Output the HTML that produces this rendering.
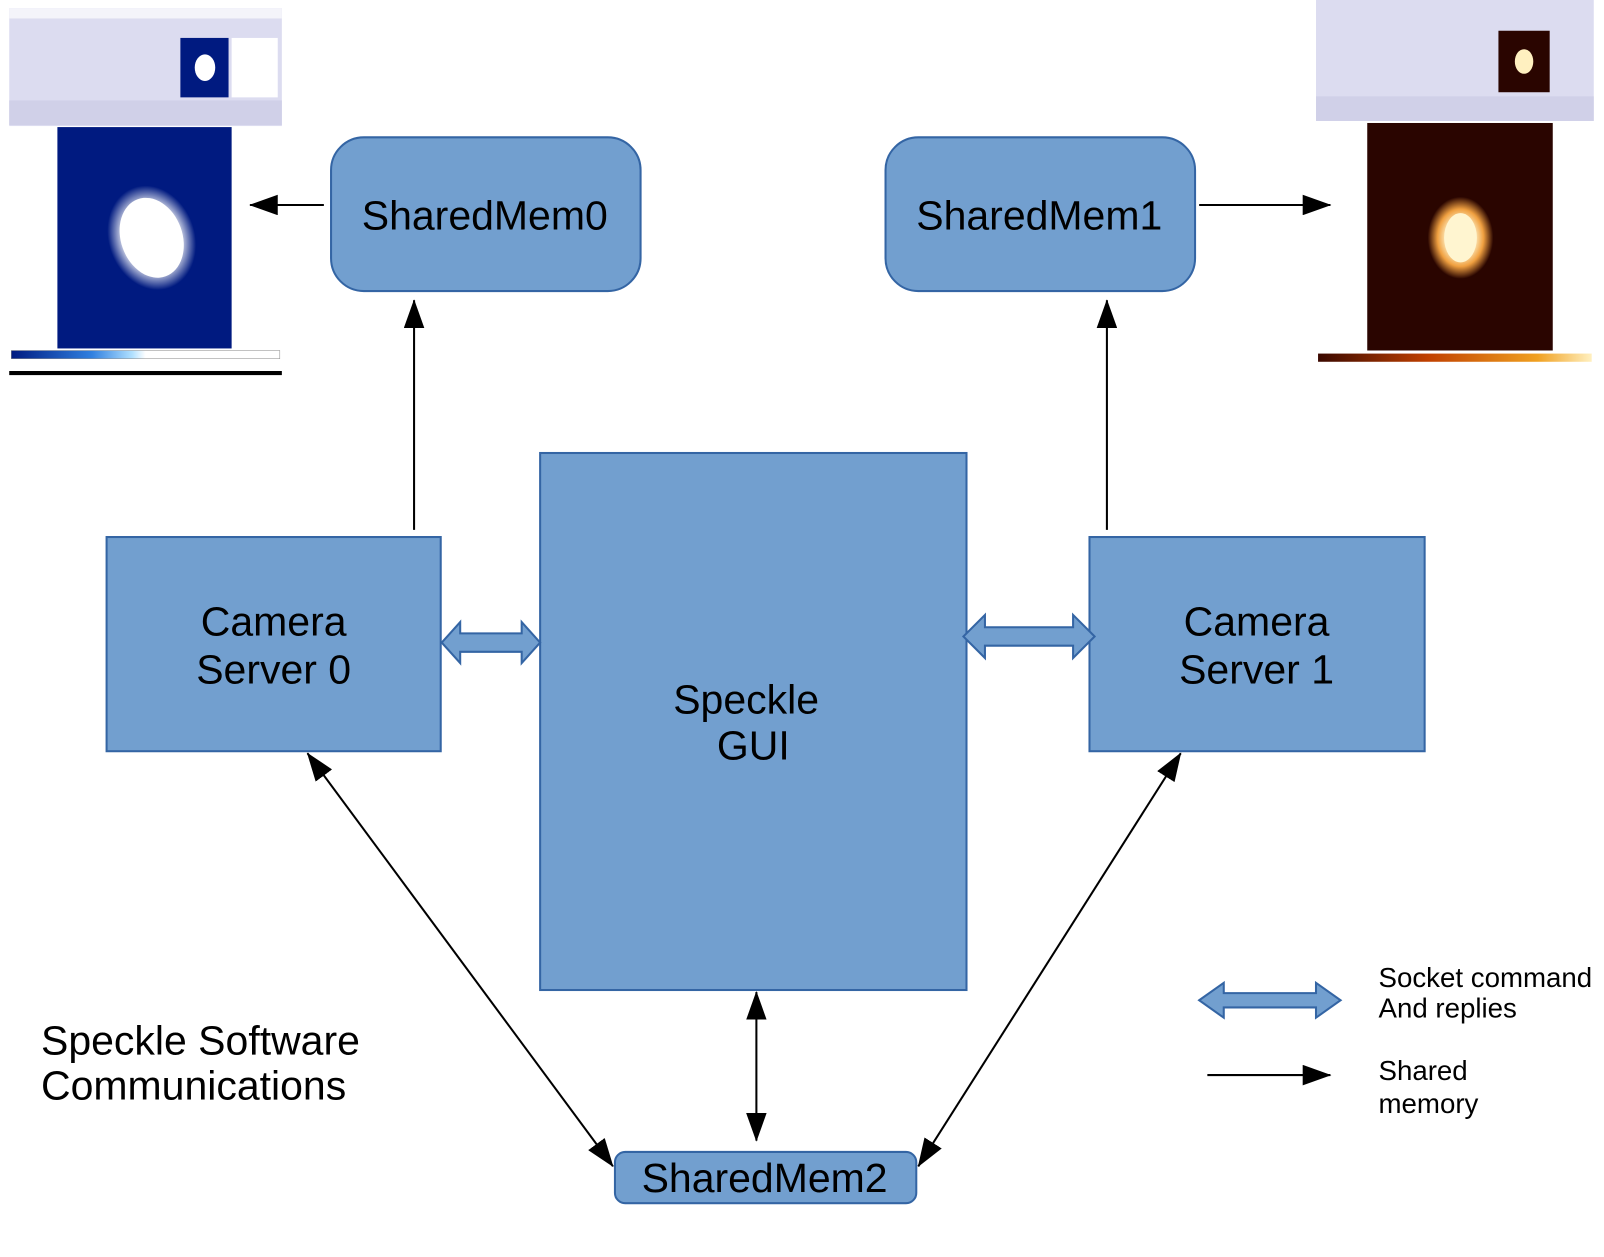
<!DOCTYPE html>
<html><head><meta charset="utf-8"><style>
body{margin:0;background:#fff}
svg{display:block}
text{font-family:"Liberation Sans",sans-serif;fill:#000}
</style></head><body>
<svg width="1604" height="1257" viewBox="0 0 1565 1226.5" preserveAspectRatio="none">
<defs>
<marker id="ahb" markerWidth="28" markerHeight="20" refX="27" refY="10" orient="auto-start-reverse" markerUnits="userSpaceOnUse"><path d="M0,0 L28,10 L0,20 Z" fill="#000"/></marker>
<radialGradient id="wb"><stop offset="0.6" stop-color="#fff"/><stop offset="1" stop-color="#fff" stop-opacity="0"/></radialGradient>
<radialGradient id="ob"><stop offset="0.4" stop-color="#fff5d0"/><stop offset="0.7" stop-color="#f0a040"/><stop offset="1" stop-color="#f0a040" stop-opacity="0"/></radialGradient>
<linearGradient id="cb1"><stop offset="0" stop-color="#001a80"/><stop offset="0.3" stop-color="#3080e0"/><stop offset="0.45" stop-color="#b0e0ff"/><stop offset="0.5" stop-color="#fff"/></linearGradient>
<linearGradient id="cb2"><stop offset="0" stop-color="#3a0800"/><stop offset="0.4" stop-color="#c04000"/><stop offset="0.8" stop-color="#f0a020"/><stop offset="1" stop-color="#fff0c0"/></linearGradient>
</defs>

<rect x="9" y="8" width="266" height="115" fill="#dcdcf0"/>
<rect x="9" y="8" width="266" height="10" fill="#f4f4fa"/>
<rect x="176" y="37" width="47" height="58" fill="#001a80"/>
<ellipse cx="200" cy="66" rx="10" ry="13" fill="#fff"/>
<rect x="226" y="37" width="45" height="58" fill="#fff"/>
<rect x="9" y="98" width="266" height="24" fill="#d0d0e8"/>
<rect x="56" y="124" width="170" height="216" fill="#001a80"/>
<ellipse cx="148" cy="232" rx="42" ry="52" transform="rotate(-20 148 232)" fill="url(#wb)"/>
<ellipse cx="148" cy="232" rx="30" ry="40" transform="rotate(-20 148 232)" fill="#fff"/>
<rect x="11" y="342" width="262" height="8" fill="url(#cb1)" stroke="#888" stroke-width="0.5"/>
<rect x="9" y="362" width="266" height="4" fill="#000"/>

<rect x="1284" y="0" width="271" height="118" fill="#dcdcf0"/>
<rect x="1462" y="30" width="50" height="60" fill="#2a0500"/>
<ellipse cx="1487" cy="60" rx="9" ry="12" fill="#fff0c0"/>
<rect x="1284" y="94" width="271" height="24" fill="#d0d0e8"/>
<rect x="1334" y="120" width="181" height="222" fill="#2a0500"/>
<ellipse cx="1425" cy="232" rx="32" ry="40" fill="url(#ob)"/>
<ellipse cx="1425" cy="232" rx="16" ry="24" fill="#fff5d0"/>
<rect x="1286" y="345" width="267" height="8" fill="url(#cb2)"/>

<g fill="#729fcf" stroke="#3465a4" stroke-width="2">
<rect x="323" y="134" width="302" height="150" rx="32"/>
<rect x="864" y="134" width="302" height="150" rx="32"/>
<rect x="104" y="524" width="326" height="209"/>
<rect x="527" y="442" width="416" height="524"/>
<rect x="1063" y="524" width="327" height="209"/>
<rect x="600" y="1124" width="294" height="50" rx="10"/>
<path d="M431,627 L449,607 L449,618 L509,618 L509,607 L527,627 L509,647 L509,636 L449,636 L449,647 Z"/>
<path d="M940,621 L961,600 L961,612 L1047,612 L1047,600 L1068,621 L1047,642 L1047,630 L961,630 L961,642 Z"/>
<path d="M1170,976 L1194,959 L1194,969 L1284,969 L1284,959 L1308,976 L1284,993 L1284,983 L1194,983 L1194,993 Z"/>
</g>

<g stroke="#000" stroke-width="2" fill="none">
<line x1="316" y1="200" x2="244" y2="200" marker-end="url(#ahb)"/>
<line x1="1170" y1="200" x2="1298" y2="200" marker-end="url(#ahb)"/>
<line x1="404" y1="517" x2="404" y2="293" marker-end="url(#ahb)"/>
<line x1="1080" y1="517" x2="1080" y2="293" marker-end="url(#ahb)"/>
<line x1="300" y1="735" x2="598" y2="1138" marker-start="url(#ahb)" marker-end="url(#ahb)"/>
<line x1="1152" y1="735" x2="896" y2="1138" marker-start="url(#ahb)" marker-end="url(#ahb)"/>
<line x1="738" y1="968" x2="738" y2="1113" marker-start="url(#ahb)" marker-end="url(#ahb)"/>
<line x1="1178" y1="1049" x2="1298" y2="1049" marker-end="url(#ahb)"/>
</g>

<g font-size="40" text-anchor="middle">
<text x="473" y="224">SharedMem0</text>
<text x="1014" y="224">SharedMem1</text>
<text x="267" y="620">Camera</text>
<text x="267" y="667">Server 0</text>
<text x="1226" y="620">Camera</text>
<text x="1226" y="667">Server 1</text>
<text x="728" y="696">Speckle</text>
<text x="735" y="741">GUI</text>
<text x="746" y="1163">SharedMem2</text>
</g>
<text x="40" y="1029" font-size="40">Speckle Software</text>
<text x="40" y="1073" font-size="40">Communications</text>
<g font-size="27">
<text x="1345" y="963">Socket command</text>
<text x="1345" y="993">And replies</text>
<text x="1345" y="1054">Shared</text>
<text x="1345" y="1086">memory</text>
</g>
</svg>
</body></html>
